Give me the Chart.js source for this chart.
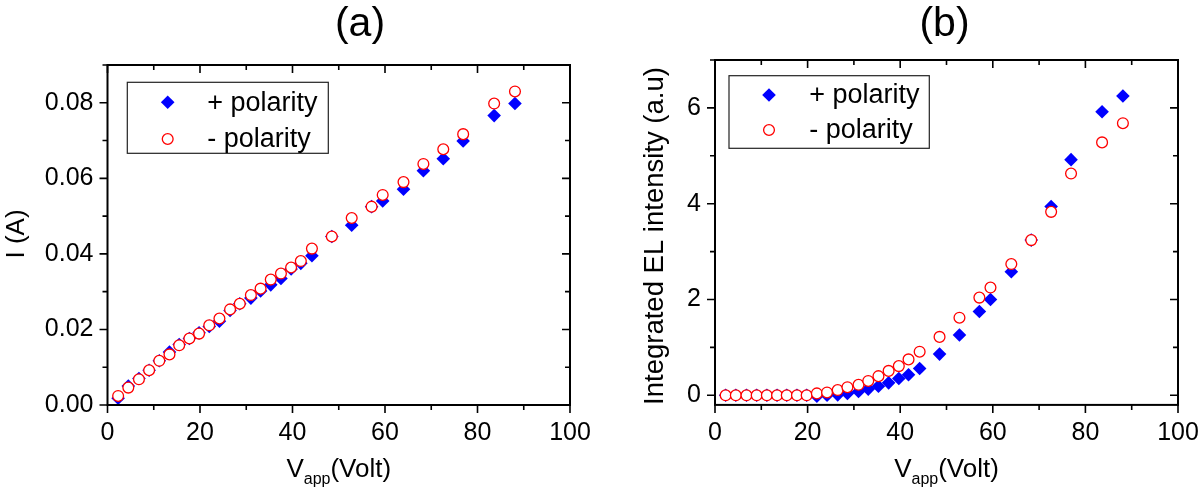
<!DOCTYPE html>
<html><head><meta charset="utf-8">
<script src="https://cdn.jsdelivr.net/npm/chart.js@4.4.0/dist/chart.umd.min.js"></script>
<style>
html,body{margin:0;padding:0;background:#fff;width:1200px;height:488px;overflow:hidden}
canvas{position:absolute;top:0}
</style></head><body>
<canvas id="ca" width="600" height="488" style="left:0px"></canvas>
<canvas id="cb" width="600" height="488" style="left:600px"></canvas>
<script>
// ---- data ----
const voltage = [2.3,4.5,6.8,9.0,11.2,13.4,15.5,17.7,19.8,22.0,24.2,26.5,28.6,31.0,33.1,35.3,37.5,39.7,41.8,44.2,48.5,52.8,57.1,59.5,64.0,68.3,72.6,76.9,83.6,88.1];
const currentPlus  = [0.0018,0.0050,0.0070,0.0092,0.0117,0.0140,0.0160,0.0176,0.0191,0.0208,0.0222,0.0250,0.0268,0.0283,0.0302,0.0318,0.0335,0.0360,0.0375,0.0395,0.0446,0.0476,0.0525,0.0540,0.0571,0.0620,0.0652,0.0699,0.0766,0.0798];
const currentMinus = [0.0024,0.0046,0.0068,0.0092,0.0117,0.0134,0.0158,0.0176,0.0189,0.0211,0.0229,0.0253,0.0268,0.0291,0.0308,0.0332,0.0348,0.0364,0.0381,0.0414,0.0446,0.0495,0.0525,0.0556,0.0590,0.0638,0.0677,0.0717,0.0798,0.0830];
const elPlus  = [0,0,0,0,0,0,0,0,0,-0.02,0.0,0.01,0.04,0.08,0.13,0.19,0.26,0.35,0.43,0.56,0.86,1.26,1.75,2.00,2.58,3.24,3.94,4.92,5.92,6.25];
const elMinus = [0,0,0,0,0,0,0,0,0,0.04,0.06,0.11,0.17,0.22,0.30,0.40,0.51,0.61,0.75,0.91,1.22,1.62,2.04,2.25,2.74,3.24,3.83,4.63,5.28,5.68];
const seriesLabels = ['+ polarity', '- polarity'];
const panelTitles = ['(a)', '(b)'];
const xTicks = [0,10,20,30,40,50,60,70,80,90,100];
const xTickLabels = [0,20,40,60,80,100];
const yTicksA = [0,0.01,0.02,0.03,0.04,0.05,0.06,0.07,0.08,0.09];
const yTickLabelsA = ['0.00','0.02','0.04','0.06','0.08'];
const yTicksB = [0,1,2,3,4,5,6,7];
const yTickLabelsB = ['0','2','4','6'];
const yTitles = ['I (A)', 'Integrated EL intensity (a.u)'];

const FONT = "'Liberation Sans', Arial, Helvetica, sans-serif";
Chart.defaults.font.family = FONT;
Chart.defaults.color = '#000';

const deco = {
  id: 'deco',
  afterDatasetsDraw(chart, args, o) {
    const {ctx, chartArea: a, scales: {x, y}} = chart;
    ctx.save();
    ctx.strokeStyle = '#000';
    ctx.lineWidth = 2;
    ctx.strokeRect(a.left, a.top, a.right - a.left, a.bottom - a.top);
    ctx.lineWidth = 1.6;
    ctx.beginPath();
    x.ticks.forEach(t => {
      const px = x.getPixelForValue(t.value);
      const L = t.label ? 8 : 5;
      ctx.moveTo(px, a.bottom); ctx.lineTo(px, a.bottom + L);
      ctx.moveTo(px, a.top); ctx.lineTo(px, a.top + L);
    });
    y.ticks.forEach(t => {
      const py = y.getPixelForValue(t.value);
      const L = t.label ? 8 : 5;
      ctx.moveTo(a.left, py); ctx.lineTo(a.left - L, py);
      ctx.moveTo(a.right, py); ctx.lineTo(a.right - L, py);
    });
    ctx.stroke();
    ctx.restore();
  },
  afterDraw(chart, args, o) {
    const {ctx, chartArea: a} = chart;
    ctx.save();
    ctx.fillStyle = '#000';
    ctx.font = '41px ' + FONT;
    ctx.textAlign = 'center';
    ctx.textBaseline = 'alphabetic';
    ctx.fillText(o.title, o.titleX, 36);
    ctx.save();
    ctx.translate(o.yTitleX, o.yTitleY);
    ctx.rotate(-Math.PI / 2);
    ctx.font = o.yTitleSize + 'px ' + FONT;
    ctx.textAlign = 'center';
    ctx.textBaseline = 'middle';
    ctx.fillText(o.yTitle, 0, 0);
    ctx.restore();
    const big = '26px ' + FONT, small = '16px ' + FONT;
    ctx.font = big; const w1 = ctx.measureText('V').width; const w3 = ctx.measureText('(Volt)').width;
    ctx.font = small; const w2 = ctx.measureText('app').width;
    let sx = (a.left + a.right) / 2 - (w1 + w2 + w3) / 2;
    const by = 477;
    ctx.textAlign = 'left';
    ctx.font = big; ctx.fillText('V', sx, by); sx += w1;
    ctx.font = small; ctx.fillText('app', sx, by + 7); sx += w2;
    ctx.font = big; ctx.fillText('(Volt)', sx, by);
    const [bx, byy, bw, bh] = o.box;
    ctx.strokeStyle = '#222';
    ctx.lineWidth = 1.2;
    ctx.strokeRect(bx, byy, bw, bh);
    ctx.font = '27px ' + FONT;
    ctx.textBaseline = 'middle';
    chart.data.datasets.forEach((ds, i) => {
      const cy = o.rows[i];
      const mx = o.markerX;
      ctx.beginPath();
      if (ds.pointStyle === 'rectRot') {
        const r = ds.pointRadius;
        ctx.moveTo(mx, cy - r); ctx.lineTo(mx + r, cy); ctx.lineTo(mx, cy + r); ctx.lineTo(mx - r, cy); ctx.closePath();
        ctx.fillStyle = ds.backgroundColor; ctx.fill();
      } else {
        ctx.arc(mx, cy, ds.pointRadius, 0, Math.PI * 2);
        ctx.fillStyle = ds.backgroundColor; ctx.fill();
        ctx.strokeStyle = ds.borderColor; ctx.lineWidth = ds.borderWidth; ctx.stroke();
      }
      ctx.fillStyle = '#000';
      ctx.fillText(ds.label, o.textX, cy + 1);
    });
    ctx.restore();
  }
};

function pts(ys) { return voltage.map((v, i) => ({x: v, y: ys[i]})); }

function makeChart(id, plus, minus, yMin, yMax, yTicks, yLabels, fmt, cfg) {
  const chart = new Chart(document.getElementById(id), {
    type: 'scatter',
    data: {
      datasets: [
        {label: seriesLabels[0], data: pts(plus), pointStyle: 'rectRot', pointRadius: 6.8, pointHoverRadius: 6.8,
         backgroundColor: '#0000ff', borderColor: '#0000ff', borderWidth: 0, order: 1},
        {label: seriesLabels[1], data: pts(minus), pointStyle: 'circle', pointRadius: 5.4, pointHoverRadius: 5.4,
         backgroundColor: '#ffffff', borderColor: '#ff0000', borderWidth: 1.3, order: 0}
      ]
    },
    options: {
      responsive: false, animation: false, devicePixelRatio: 1,
      layout: {padding: {left: 0, right: cfg.padRight, top: cfg.padTop, bottom: 0}},
      plugins: {
        legend: {display: false}, tooltip: {enabled: false}, title: {display: false},
        deco: cfg.deco
      },
      scales: {
        x: {
          type: 'linear', min: 0, max: 100,
          afterBuildTicks: s => { s.ticks = xTicks.map(v => ({value: v})); },
          ticks: {callback: v => xTickLabels.includes(v) ? String(v) : '', font: {size: 25}, color: '#000', padding: 13, maxRotation: 0, autoSkip: false},
          grid: {display: false, drawTicks: false}, border: {display: false},
          afterFit: s => { s.height = cfg.xHeight; s.paddingLeft = 0; s.paddingRight = 0; }
        },
        y: {
          type: 'linear', min: yMin, max: yMax,
          afterBuildTicks: s => { s.ticks = yTicks.map(v => ({value: v})); },
          ticks: {callback: v => { const l = fmt(v); return yLabels.includes(l) ? l : ''; }, font: {size: 25}, color: '#000', padding: 14, autoSkip: false},
          grid: {display: false, drawTicks: false}, border: {display: false},
          afterFit: s => { s.width = cfg.yWidth; s.paddingTop = 0; s.paddingBottom = 0; }
        }
      }
    },
    plugins: [deco]
  });
  // pin the plot area to the target rectangle
  const t = cfg.target;
  for (let k = 0; k < 4; k++) {
    const a = chart.chartArea;
    cfg.padTop += t.top - a.top;
    cfg.padRight += a.right - t.right;
    cfg.yWidth += t.left - a.left;
    cfg.xHeight += a.bottom - t.bottom;
    chart.config.options.layout.padding = {left: 0, right: cfg.padRight, top: cfg.padTop, bottom: 0};
    chart.update();
  }
  return chart;
}

makeChart('ca', currentPlus, currentMinus, 0, 0.09, yTicksA, yTickLabelsA, v => v.toFixed(2), {
  padRight: 30, padTop: 65, xHeight: 83, yWidth: 107.5,
  target: {left: 107.5, right: 570, top: 65, bottom: 405},
  deco: {title: panelTitles[0], titleX: 360, yTitle: yTitles[0], yTitleX: 17, yTitleY: 234, yTitleSize: 26,
         box: [127.3, 82.3, 201, 71], rows: [102.3, 139], markerX: 167.7, textX: 207.3}
});
makeChart('cb', elPlus, elMinus, -0.2, 7, yTicksB, yTickLabelsB, v => String(Math.round(v)), {
  padRight: 22, padTop: 60, xHeight: 83.5, yWidth: 115,
  target: {left: 115, right: 578, top: 60, bottom: 404.9},
  deco: {title: panelTitles[1], titleX: 344.5, yTitle: yTitles[1], yTitleX: 55, yTitleY: 236, yTitleSize: 27.5,
         box: [129, 75.7, 200.3, 72.6], rows: [95, 130], markerX: 169, textX: 209.3}
});
</script>
</body></html>
